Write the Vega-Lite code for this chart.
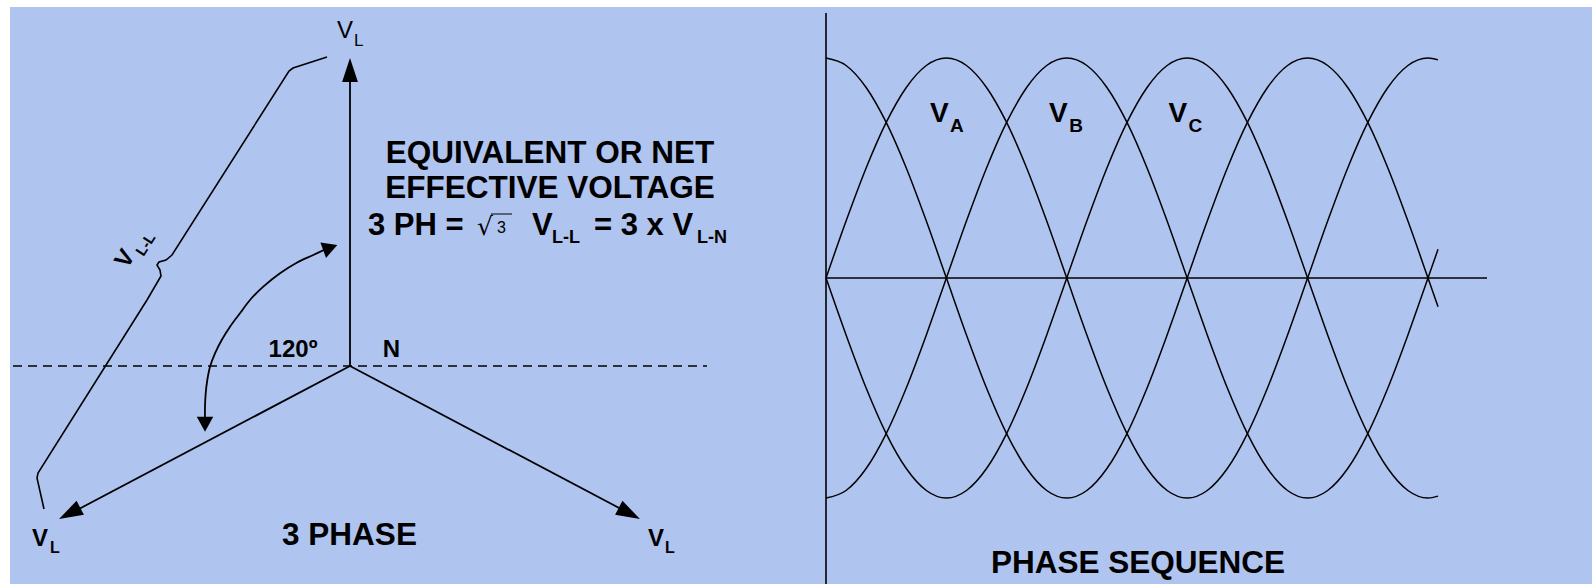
{
  "$schema": "https://vega.github.io/schema/vega-lite/v6.json",
  "width": 1582,
  "height": 577,
  "autosize": {"type": "none"},
  "padding": {"left": 10, "top": 7, "right": 0, "bottom": 0},
  "background": "#ffffff",
  "config": {"view": {"stroke": null, "fill": "#B0C4F0"}, "text": {"font": "Liberation Sans", "color": "#000000", "baseline": "alphabetic"}},
  "resolve": {"scale": {"x": "independent", "y": "independent"}},
  "layer": [
    {
      "encoding": {
        "x": {"field": "x", "type": "quantitative", "scale": {"domain": [-340, 1242], "nice": false, "zero": false}, "axis": null},
        "y": {"field": "y", "type": "quantitative", "scale": {"domain": [-218, 359], "nice": false, "zero": false}, "axis": null}
      },
      "layer": [
        {
          "data": {"values": [
            {"name": "VL top", "x": 0, "y": 0, "x2": 0, "y2": 290},
            {"name": "VL left", "x": 0, "y": 0, "x2": -273, "y2": -144},
            {"name": "VL right", "x": 0, "y": 0, "x2": 273, "y2": -144}
          ]},
          "mark": {"type": "rule", "color": "#000000", "strokeWidth": 1.8},
          "encoding": {"x2": {"field": "x2"}, "y2": {"field": "y2"}}
        },
        {
          "data": {"values": [{"name": "reference", "x": -337, "y": 0, "x2": 357, "y2": 0}]},
          "mark": {"type": "rule", "color": "#000000", "strokeWidth": 1.3, "strokeDash": [9, 6]},
          "encoding": {"x2": {"field": "x2"}, "y2": {"field": "y2"}}
        },
        {
          "data": {"values": [{"name": "sqrt bar", "x": 141, "y": 152, "x2": 162, "y2": 152}]},
          "mark": {"type": "rule", "color": "#000000", "strokeWidth": 1},
          "encoding": {"x2": {"field": "x2"}, "y2": {"field": "y2"}}
        },
        {
          "data": {"values": [
            {"i": 0, "x": -23, "y": 309},
            {"i": 1, "x": -57, "y": 298},
            {"i": 2, "x": -61, "y": 295},
            {"i": 3, "x": -178, "y": 111},
            {"i": 4, "x": -184, "y": 106},
            {"i": 5, "x": -191, "y": 104},
            {"i": 6, "x": -193, "y": 101},
            {"i": 7, "x": -190, "y": 96},
            {"i": 8, "x": -189, "y": 90},
            {"i": 9, "x": -203, "y": 66},
            {"i": 10, "x": -312, "y": -107},
            {"i": 11, "x": -313, "y": -112},
            {"i": 12, "x": -306, "y": -143}
          ]},
          "mark": {"type": "line", "color": "#000000", "strokeWidth": 1.6},
          "encoding": {"order": {"field": "i", "type": "quantitative"}}
        },
        {
          "data": {"values": [
            {"i": 0, "x": -25, "y": 116.5},
            {"i": 1, "x": -36.7, "y": 111},
            {"i": 2, "x": -53.3, "y": 103.3},
            {"i": 3, "x": -70, "y": 92.7},
            {"i": 4, "x": -86.7, "y": 79.3},
            {"i": 5, "x": -100, "y": 66},
            {"i": 6, "x": -110, "y": 52.7},
            {"i": 7, "x": -120, "y": 39.3},
            {"i": 8, "x": -128.3, "y": 26},
            {"i": 9, "x": -135, "y": 12.7},
            {"i": 10, "x": -140, "y": -0.7},
            {"i": 11, "x": -142.7, "y": -14},
            {"i": 12, "x": -144.3, "y": -27.3},
            {"i": 13, "x": -145, "y": -40.7},
            {"i": 14, "x": -145, "y": -51}
          ]},
          "mark": {"type": "line", "color": "#000000", "strokeWidth": 1.8, "interpolate": "catmull-rom"},
          "encoding": {"order": {"field": "i", "type": "quantitative"}}
        },
        {
          "data": {"values": [
            {"x": 0, "y": 308, "dir": 0},
            {"x": -291, "y": -153, "dir": 242.3},
            {"x": 290, "y": -153, "dir": 117.8}
          ]},
          "mark": {"type": "point", "shape": "M0,0L0.33,1L-0.33,1Z", "size": 2304, "filled": true, "color": "#000000", "opacity": 1, "strokeWidth": 0},
          "encoding": {"angle": {"field": "dir", "type": "quantitative", "scale": null}}
        },
        {
          "data": {"values": [
            {"x": -12.7, "y": 121, "dir": 70},
            {"x": -145, "y": -65.7, "dir": 180}
          ]},
          "mark": {"type": "point", "shape": "M0,0L0.55,1L-0.55,1Z", "size": 900, "filled": true, "color": "#000000", "opacity": 1, "strokeWidth": 0},
          "encoding": {"angle": {"field": "dir", "type": "quantitative", "scale": null}}
        },
        {
          "data": {"values": [
            {"t": "3 PHASE", "x": -0.5, "y": -179},
            {"t": "EQUIVALENT OR NET", "x": 200, "y": 203},
            {"t": "EFFECTIVE VOLTAGE", "x": 200, "y": 168}
          ]},
          "mark": {"type": "text", "fontSize": 31.5, "fontWeight": "bold", "align": "center", "baseline": "alphabetic"},
          "encoding": {"text": {"field": "t"}}
        },
        {
          "data": {"values": [
            {"t": "3 PH =", "x": 18, "y": 131},
            {"t": "V", "x": 182, "y": 131},
            {"t": "= 3 x V", "x": 244, "y": 131}
          ]},
          "mark": {"type": "text", "fontSize": 31, "fontWeight": "bold", "align": "left", "baseline": "alphabetic"},
          "encoding": {"text": {"field": "t"}}
        },
        {
          "data": {"values": [
            {"t": "L-L", "x": 202, "y": 123},
            {"t": "L-N", "x": 347, "y": 123}
          ]},
          "mark": {"type": "text", "fontSize": 18, "fontWeight": "bold", "align": "left", "baseline": "alphabetic"},
          "encoding": {"text": {"field": "t"}}
        },
        {
          "data": {"values": [
            {"t": "L", "x": -300, "y": -187},
            {"t": "L", "x": 315, "y": -187}
          ]},
          "mark": {"type": "text", "fontSize": 16, "fontWeight": "bold", "align": "left", "baseline": "alphabetic"},
          "encoding": {"text": {"field": "t"}}
        },
        {
          "data": {"values": [
            {"t": "V", "x": -318, "y": -180},
            {"t": "V", "x": 298, "y": -180}
          ]},
          "mark": {"type": "text", "fontSize": 24, "fontWeight": "bold", "align": "left", "baseline": "alphabetic"},
          "encoding": {"text": {"field": "t"}}
        },
        {
          "data": {"values": [{"t": "V", "x": -13, "y": 328}]},
          "mark": {"type": "text", "fontSize": 24, "fontWeight": "normal", "align": "left", "baseline": "alphabetic"},
          "encoding": {"text": {"field": "t"}}
        },
        {
          "data": {"values": [{"t": "L", "x": 4, "y": 320}]},
          "mark": {"type": "text", "fontSize": 17, "fontWeight": "normal", "align": "left", "baseline": "alphabetic"},
          "encoding": {"text": {"field": "t"}}
        },
        {
          "data": {"values": [
            {"t": "120º", "x": -57, "y": 9},
            {"t": "N", "x": 41.5, "y": 9}
          ]},
          "mark": {"type": "text", "fontSize": 24, "fontWeight": "bold", "align": "center", "baseline": "alphabetic"},
          "encoding": {"text": {"field": "t"}}
        },
        {
          "data": {"values": [{"t": "√", "x": 127, "y": 131}]},
          "mark": {"type": "text", "font": "DejaVu Sans", "fontSize": 25, "fontWeight": "normal", "align": "left", "baseline": "alphabetic"},
          "encoding": {"text": {"field": "t"}}
        },
        {
          "data": {"values": [{"t": "3", "x": 147, "y": 133}]},
          "mark": {"type": "text", "fontSize": 16, "fontWeight": "normal", "align": "left", "baseline": "alphabetic"},
          "encoding": {"text": {"field": "t"}}
        },
        {
          "data": {"values": [{"t": "V", "x": -223, "y": 96.4}]},
          "mark": {"type": "text", "fontSize": 24, "fontWeight": "bold", "align": "left", "baseline": "alphabetic", "angle": 302.5},
          "encoding": {"text": {"field": "t"}}
        },
        {
          "data": {"values": [{"t": "L-L", "x": -206.5, "y": 109}]},
          "mark": {"type": "text", "fontSize": 15, "fontWeight": "bold", "align": "left", "baseline": "alphabetic", "angle": 302.5},
          "encoding": {"text": {"field": "t"}}
        }
      ]
    },
    {
      "encoding": {
        "x": {"field": "x", "type": "quantitative", "scale": {"domain": [-609.97, 572.59], "nice": false, "zero": false}, "axis": null},
        "y": {"field": "y", "type": "quantitative", "scale": {"domain": [-1.39091, 1.23182], "nice": false, "zero": false}, "axis": null}
      },
      "layer": [
        {
          "data": {"values": [
            {"name": "amplitude axis", "x": 0, "y": 1.2045, "x2": 0, "y2": -1.3909},
            {"name": "time axis", "x": 0, "y": 0, "x2": 494.1, "y2": 0}
          ]},
          "mark": {"type": "rule", "color": "#000000", "strokeWidth": 1.6},
          "encoding": {"x2": {"field": "x2"}, "y2": {"field": "y2"}}
        },
        {
          "data": {"values": [
            {"s": "VA", "x": 0, "y": 0}, {"s": "VA", "x": 15, "y": 0.2588}, {"s": "VA", "x": 30, "y": 0.5}, {"s": "VA", "x": 45, "y": 0.7071}, {"s": "VA", "x": 60, "y": 0.866}, {"s": "VA", "x": 75, "y": 0.9659}, {"s": "VA", "x": 90, "y": 1}, {"s": "VA", "x": 105, "y": 0.9659}, {"s": "VA", "x": 120, "y": 0.866}, {"s": "VA", "x": 135, "y": 0.7071}, {"s": "VA", "x": 150, "y": 0.5}, {"s": "VA", "x": 165, "y": 0.2588}, {"s": "VA", "x": 180, "y": 0}, {"s": "VA", "x": 195, "y": -0.2588}, {"s": "VA", "x": 210, "y": -0.5}, {"s": "VA", "x": 225, "y": -0.7071}, {"s": "VA", "x": 240, "y": -0.866}, {"s": "VA", "x": 255, "y": -0.9659}, {"s": "VA", "x": 270, "y": -1}, {"s": "VA", "x": 285, "y": -0.9659}, {"s": "VA", "x": 300, "y": -0.866}, {"s": "VA", "x": 315, "y": -0.7071}, {"s": "VA", "x": 330, "y": -0.5}, {"s": "VA", "x": 345, "y": -0.2588}, {"s": "VA", "x": 360, "y": 0}, {"s": "VA", "x": 375, "y": 0.2588}, {"s": "VA", "x": 390, "y": 0.5}, {"s": "VA", "x": 405, "y": 0.7071}, {"s": "VA", "x": 420, "y": 0.866}, {"s": "VA", "x": 435, "y": 0.9659}, {"s": "VA", "x": 450, "y": 1}, {"s": "VA", "x": 457.5, "y": 0.9914},
            {"s": "VB", "x": 0, "y": -1}, {"s": "VB", "x": 15, "y": -0.9659}, {"s": "VB", "x": 30, "y": -0.866}, {"s": "VB", "x": 45, "y": -0.7071}, {"s": "VB", "x": 60, "y": -0.5}, {"s": "VB", "x": 75, "y": -0.2588}, {"s": "VB", "x": 90, "y": 0}, {"s": "VB", "x": 105, "y": 0.2588}, {"s": "VB", "x": 120, "y": 0.5}, {"s": "VB", "x": 135, "y": 0.7071}, {"s": "VB", "x": 150, "y": 0.866}, {"s": "VB", "x": 165, "y": 0.9659}, {"s": "VB", "x": 180, "y": 1}, {"s": "VB", "x": 195, "y": 0.9659}, {"s": "VB", "x": 210, "y": 0.866}, {"s": "VB", "x": 225, "y": 0.7071}, {"s": "VB", "x": 240, "y": 0.5}, {"s": "VB", "x": 255, "y": 0.2588}, {"s": "VB", "x": 270, "y": 0}, {"s": "VB", "x": 285, "y": -0.2588}, {"s": "VB", "x": 300, "y": -0.5}, {"s": "VB", "x": 315, "y": -0.7071}, {"s": "VB", "x": 330, "y": -0.866}, {"s": "VB", "x": 345, "y": -0.9659}, {"s": "VB", "x": 360, "y": -1}, {"s": "VB", "x": 375, "y": -0.9659}, {"s": "VB", "x": 390, "y": -0.866}, {"s": "VB", "x": 405, "y": -0.7071}, {"s": "VB", "x": 420, "y": -0.5}, {"s": "VB", "x": 435, "y": -0.2588}, {"s": "VB", "x": 450, "y": 0}, {"s": "VB", "x": 457.5, "y": 0.1305},
            {"s": "VC", "x": 0, "y": 0}, {"s": "VC", "x": 15, "y": -0.2588}, {"s": "VC", "x": 30, "y": -0.5}, {"s": "VC", "x": 45, "y": -0.7071}, {"s": "VC", "x": 60, "y": -0.866}, {"s": "VC", "x": 75, "y": -0.9659}, {"s": "VC", "x": 90, "y": -1}, {"s": "VC", "x": 105, "y": -0.9659}, {"s": "VC", "x": 120, "y": -0.866}, {"s": "VC", "x": 135, "y": -0.7071}, {"s": "VC", "x": 150, "y": -0.5}, {"s": "VC", "x": 165, "y": -0.2588}, {"s": "VC", "x": 180, "y": 0}, {"s": "VC", "x": 195, "y": 0.2588}, {"s": "VC", "x": 210, "y": 0.5}, {"s": "VC", "x": 225, "y": 0.7071}, {"s": "VC", "x": 240, "y": 0.866}, {"s": "VC", "x": 255, "y": 0.9659}, {"s": "VC", "x": 270, "y": 1}, {"s": "VC", "x": 285, "y": 0.9659}, {"s": "VC", "x": 300, "y": 0.866}, {"s": "VC", "x": 315, "y": 0.7071}, {"s": "VC", "x": 330, "y": 0.5}, {"s": "VC", "x": 345, "y": 0.2588}, {"s": "VC", "x": 360, "y": 0}, {"s": "VC", "x": 375, "y": -0.2588}, {"s": "VC", "x": 390, "y": -0.5}, {"s": "VC", "x": 405, "y": -0.7071}, {"s": "VC", "x": 420, "y": -0.866}, {"s": "VC", "x": 435, "y": -0.9659}, {"s": "VC", "x": 450, "y": -1}, {"s": "VC", "x": 457.5, "y": -0.9914},
            {"s": "VD", "x": 0, "y": 1}, {"s": "VD", "x": 15, "y": 0.9659}, {"s": "VD", "x": 30, "y": 0.866}, {"s": "VD", "x": 45, "y": 0.7071}, {"s": "VD", "x": 60, "y": 0.5}, {"s": "VD", "x": 75, "y": 0.2588}, {"s": "VD", "x": 90, "y": 0}, {"s": "VD", "x": 105, "y": -0.2588}, {"s": "VD", "x": 120, "y": -0.5}, {"s": "VD", "x": 135, "y": -0.7071}, {"s": "VD", "x": 150, "y": -0.866}, {"s": "VD", "x": 165, "y": -0.9659}, {"s": "VD", "x": 180, "y": -1}, {"s": "VD", "x": 195, "y": -0.9659}, {"s": "VD", "x": 210, "y": -0.866}, {"s": "VD", "x": 225, "y": -0.7071}, {"s": "VD", "x": 240, "y": -0.5}, {"s": "VD", "x": 255, "y": -0.2588}, {"s": "VD", "x": 270, "y": 0}, {"s": "VD", "x": 285, "y": 0.2588}, {"s": "VD", "x": 300, "y": 0.5}, {"s": "VD", "x": 315, "y": 0.7071}, {"s": "VD", "x": 330, "y": 0.866}, {"s": "VD", "x": 345, "y": 0.9659}, {"s": "VD", "x": 360, "y": 1}, {"s": "VD", "x": 375, "y": 0.9659}, {"s": "VD", "x": 390, "y": 0.866}, {"s": "VD", "x": 405, "y": 0.7071}, {"s": "VD", "x": 420, "y": 0.5}, {"s": "VD", "x": 435, "y": 0.2588}, {"s": "VD", "x": 450, "y": 0}, {"s": "VD", "x": 457.5, "y": -0.1305}
          ]},
          "mark": {"type": "line", "color": "#000000", "strokeWidth": 1.5, "interpolate": "monotone"},
          "encoding": {"detail": {"field": "s"}}
        },
        {
          "data": {"values": [
            {"t": "V", "x": 77.7, "y": 0.709},
            {"t": "V", "x": 166.6, "y": 0.709},
            {"t": "V", "x": 256, "y": 0.709}
          ]},
          "mark": {"type": "text", "fontSize": 28, "fontWeight": "bold", "align": "left", "baseline": "alphabetic"},
          "encoding": {"text": {"field": "t"}}
        },
        {
          "data": {"values": [
            {"t": "A", "x": 92.7, "y": 0.664},
            {"t": "B", "x": 181.9, "y": 0.664},
            {"t": "C", "x": 271, "y": 0.664}
          ]},
          "mark": {"type": "text", "fontSize": 19, "fontWeight": "bold", "align": "left", "baseline": "alphabetic"},
          "encoding": {"text": {"field": "t"}}
        },
        {
          "data": {"values": [{"t": "PHASE SEQUENCE", "x": 233.2, "y": -1.341}]},
          "mark": {"type": "text", "fontSize": 31.5, "fontWeight": "bold", "align": "center", "baseline": "alphabetic"},
          "encoding": {"text": {"field": "t"}}
        }
      ]
    }
  ]
}
